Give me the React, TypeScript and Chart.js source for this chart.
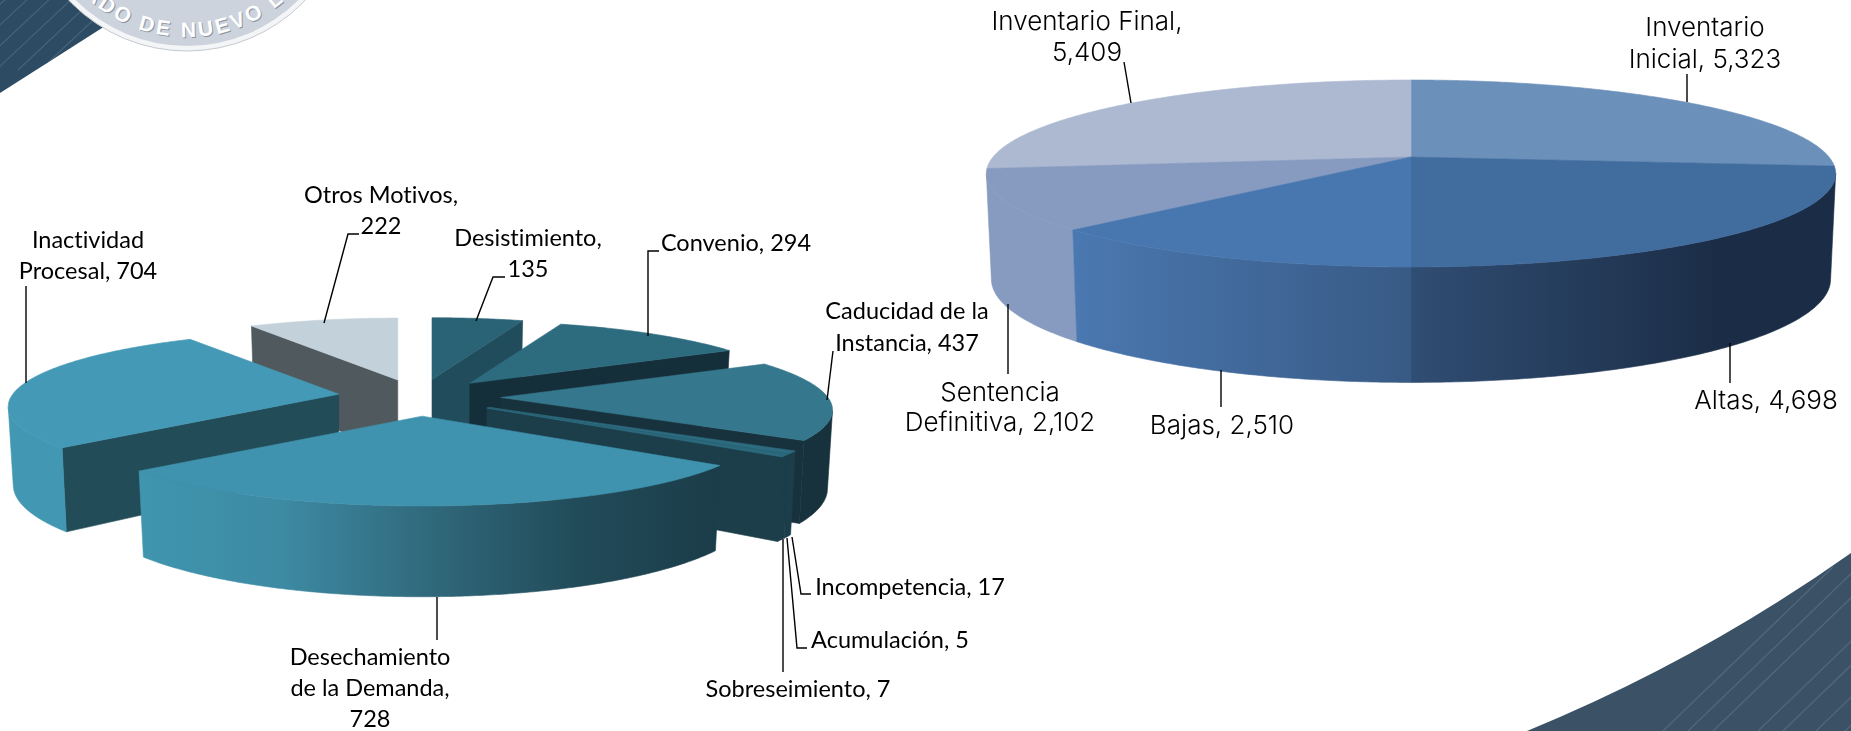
import React, { useEffect, useRef } from "react";
import { Chart, registerables } from "chart.js";

Chart.register(...registerables);

// ---- data ----
const motivoLabels = [
  "Desistimiento", "Convenio", "Caducidad de la Instancia", "Incompetencia", "Acumulación",
  "Sobreseimiento", "Desechamiento de la Demanda", "Inactividad Procesal", "Otros Motivos",
];
const motivoValues = [135, 294, 437, 17, 5, 7, 728, 704, 222];

const inventarioLabels = ["Inventario Inicial", "Altas", "Bajas", "Sentencia Definitiva", "Inventario Final"];
const inventarioValues = [5323, 4698, 2510, 2102, 5409];

// ---- styles ----
const motivoTop = ["#2a6375", "#2d6c7f", "#35778c", "#2d6c80", "#2d6c80", "#2d6c80", "#4093ae", "#449ab6", "#c3d2da"];
const motivoSide = ["#214c5b", "#152f3a", "#17323d", "#1b3e4a", "#1b3e4a", "#1b3e4a", "#1b3e4a", "#224c58", "#50595e"];
const motivoRim: any[] = [
  "#214c5b", "#152f3a", "#17323d", "#1b3e4a", "#1b3e4a", "#1b3e4a",
  { from: 138, to: 718, stops: ["#4095af", "#3d8aa3", "#30697c", "#224c5a", "#1b3c49"] },
  "#4297b2", "#50595e",
];
const inventarioTop = ["#6b91bb", "#416c9e", "#4877b0", "#879abf", "#adb9d1"];
const inventarioRim: any[] = [
  "#6b91bb",
  { from: 1411, to: 1720, stops: ["#304d73", "#1b2d46"] },
  { from: 1075, to: 1411, stops: ["#4a78b0", "#385a85"] },
  "#879abf",
  "#adb9d1",
];

const motivoProjection = {
  cx: 419, cy: 397, a: 327, b: 73.5, k: 0.165, grow: 0.08, explode: 0.25, a2: 322, b2: 83.5, depth: 77,
  top: motivoTop, side: motivoSide, rim: motivoRim,
};
const inventarioProjection = {
  cx: 1411, cy: 157, a: 418, b: 90.6, k: 0.1765, grow: 0, explode: 0, a2: 413, b2: 100, depth: 104,
  top: inventarioTop, side: inventarioTop, rim: inventarioRim,
};

const motivoFont = '23.5px Lato, sans-serif';
const inventarioFont = '300 26px "Inter", sans-serif';

type Note = { lines: string[]; x: number; ys: number[]; path: number[][] };

const motivoNotes: Note[] = [
  { lines: ["Desistimiento,", "135"], x: 528, ys: [238, 269], path: [[505, 277], [493, 277], [476, 321]] },
  { lines: ["Convenio, 294"], x: 736, ys: [243], path: [[659, 251], [648, 251], [648, 336]] },
  { lines: ["Caducidad de la", "Instancia, 437"], x: 907, ys: [311, 343], path: [[833, 351], [827, 400]] },
  { lines: ["Incompetencia, 17"], x: 910, ys: [587], path: [[811, 594], [801, 594], [792, 537]] },
  { lines: ["Acumulación, 5"], x: 890, ys: [640], path: [[807, 648], [797, 648], [787, 538]] },
  { lines: ["Sobreseimiento, 7"], x: 798, ys: [689], path: [[783, 672], [783, 539]] },
  { lines: ["Desechamiento", "de la Demanda,", "728"], x: 370, ys: [657, 688, 719], path: [[437, 597], [437, 640]] },
  { lines: ["Inactividad", "Procesal, 704"], x: 88, ys: [240, 271], path: [[26, 286], [26, 383]] },
  { lines: ["Otros Motivos,", "222"], x: 381, ys: [195, 226], path: [[359, 234], [348, 234], [324, 323]] },
];
const inventarioNotes: Note[] = [
  { lines: ["Inventario", "Inicial, 5,323"], x: 1705, ys: [28, 60], path: [[1687, 74], [1687, 102]] },
  { lines: ["Altas, 4,698"], x: 1766, ys: [401], path: [[1730, 343], [1730, 383]] },
  { lines: ["Bajas, 2,510"], x: 1222, ys: [426], path: [[1221, 370], [1221, 407]] },
  { lines: ["Sentencia", "Definitiva, 2,102"], x: 1000, ys: [393, 423], path: [[1008, 304], [1008, 374]] },
  { lines: ["Inventario Final,", "5,409"], x: 1087, ys: [22, 53], path: [[1124, 62], [1131, 103]] },
];

// ---- plugin: draws the library's arcs as perspective, extruded slices ----
const pie3d = {
  id: "pie3d",
  beforeDatasetsDraw(chart: any, _args: any, opts: any) {
    const ctx: CanvasRenderingContext2D = chart.ctx;
    const { cx, cy, a, b, k, grow, explode, a2, b2, depth, top, side, rim } = opts.projection;
    const arcs = chart.getDatasetMeta(0).data.map((el: any, i: number) => ({
      i,
      s: el.startAngle + Math.PI / 2,
      e: el.endAngle + Math.PI / 2,
    }));
    arcs.sort((p: any, q: any) => -Math.cos((p.s + p.e) / 2) + Math.cos((q.s + q.e) / 2));

    for (const arc of arcs) {
      const mid = (arc.s + arc.e) / 2;
      const u0 = explode * Math.sin(mid);
      const v0 = -explode * Math.cos(mid);
      const ax = cx + (a * u0) / (1 - k * v0);
      const ay = cy + (b * v0) / (1 - k * v0);
      const near = 1 / (1 - grow * v0);
      const up = (t: number) => {
        const u = Math.sin(t), v = -Math.cos(t), w = (1 - k * v) / near;
        return [ax + (a * u) / w, ay + (b * v) / w];
      };
      const low = (t: number) => {
        const u = Math.sin(t), v = -Math.cos(t), w = (1 - k * v) / near;
        return [ax + (a2 * u) / w, ay + depth * near + (b2 * v) / w];
      };
      const n = Math.max(2, Math.ceil((arc.e - arc.s) / 0.01));
      const ts = Array.from({ length: n + 1 }, (_, j) => arc.s + ((arc.e - arc.s) * j) / n);
      const poly = (pts: number[][], fill: any) => {
        ctx.beginPath();
        pts.forEach((p, j) => (j ? ctx.lineTo(p[0], p[1]) : ctx.moveTo(p[0], p[1])));
        ctx.closePath();
        ctx.fillStyle = fill;
        ctx.fill();
        ctx.strokeStyle = fill;
        ctx.lineWidth = 0.6;
        ctx.stroke();
      };

      if (explode > 0) {
        const bottomApex = [ax, ay + depth * near];
        if (-Math.sin(arc.s) > 1e-3) poly([[ax, ay], up(arc.s), low(arc.s), bottomApex], side[arc.i]);
        if (Math.sin(arc.e) > 1e-3) poly([[ax, ay], up(arc.e), low(arc.e), bottomApex], side[arc.i]);
      }

      const r = rim[arc.i];
      let rimFill: any = r;
      if (typeof r !== "string") {
        rimFill = ctx.createLinearGradient(r.from, 0, r.to, 0);
        r.stops.forEach((c: string, j: number) => rimFill.addColorStop(j / (r.stops.length - 1), c));
      }
      // only the part of the rim turned towards the viewer
      const front = ts.filter((t) => -Math.cos(t) >= k);
      if (front.length > 1) poly([...front.map(up), ...front.slice().reverse().map(low)], rimFill);
      poly([[ax, ay], ...ts.map(up)], top[arc.i]);
    }
    return false;
  },
  afterDraw(chart: any, _args: any, opts: any) {
    const ctx: any = chart.ctx;
    ctx.save();
    ctx.strokeStyle = "#000";
    ctx.lineWidth = 1.4;
    ctx.fillStyle = "#000";
    ctx.font = opts.font;
    ctx.textBaseline = "middle";
    ctx.textAlign = "center";
    ctx.textRendering = "optimizeSpeed";
    for (const note of opts.notes as Note[]) {
      ctx.beginPath();
      note.path.forEach((p, j) => (j ? ctx.lineTo(p[0], p[1]) : ctx.moveTo(p[0], p[1])));
      ctx.stroke();
      note.lines.forEach((line, j) => ctx.fillText(line, note.x, note.ys[j]));
    }
    ctx.restore();
  },
};

function Pie({ labels, values, projection, notes, font }: any) {
  const ref = useRef<HTMLCanvasElement>(null);
  useEffect(() => {
    const chart = new Chart(ref.current as HTMLCanvasElement, {
      type: "pie",
      data: {
        labels,
        datasets: [{ data: values, backgroundColor: projection.top, borderWidth: 0, offset: projection.explode * 100 }],
      },
      options: {
        animation: false,
        responsive: false,
        plugins: {
          legend: { display: false },
          tooltip: { enabled: false },
          pie3d: { projection, notes, font },
        } as any,
      },
      plugins: [pie3d as any],
    });
    return () => chart.destroy();
  }, []);
  return (
    <canvas ref={ref} width={1851} height={731}
      style={{ position: "absolute", left: 0, top: 0, width: 1851, height: 731 }} />
  );
}

function Backdrop() {
  const cornerLines = [1663, 1688, 1713, 1758, 1783, 1816, 1845, 1875, 1905, 1935];
  const bandLines = [-70, -48, -26, -4, 18, 40, 62, 84];
  const sealText = "ESTADO DE NUEVO LEÓN";
  const sealProps: any = {
    fontFamily: "'Liberation Sans', sans-serif",
    fontSize: 21,
    fontWeight: 700,
    letterSpacing: 3,
  };
  return (
    <svg width={1851} height={731} style={{ position: "absolute", left: 0, top: 0 }}>
      <defs>
        <clipPath id="corner"><path d="M1527 731 Q1700 660 1851 553 L1851 731 Z" /></clipPath>
        <clipPath id="band"><path d="M0 93 L102 28 L140 0 L0 0 Z" /></clipPath>
        <path id="sealArc" d="M38 -112 A149 149 0 0 0 336 -112" />
        <path id="sealShadow" d="M39 -111 A149 149 0 0 0 337 -111" />
      </defs>
      <path d="M1527 731 Q1700 660 1851 553 L1851 731 Z" fill="#3b5166" />
      <g clipPath="url(#corner)" stroke="#506678" strokeWidth={1.5}>
        {cornerLines.map((x) => <line key={x} x1={x} y1={731} x2={x + 170} y2={567} />)}
      </g>
      <path d="M0 93 L102 28 L140 0 L0 0 Z" fill="#2d4c64" />
      <g clipPath="url(#band)" stroke="#45647a" strokeWidth={1.2}>
        {bandLines.map((x) => <line key={x} x1={x} y1={70} x2={x + 80} y2={-5} />)}
      </g>
      <circle cx={187} cy={-112} r={163} fill="#f4f5f7" stroke="#c4c9d0" strokeWidth={1} />
      <circle cx={187} cy={-112} r={158} fill="#ccd3dc" />
      <text {...sealProps} fill="#8b94a1">
        <textPath href="#sealShadow" startOffset="50%" textAnchor="middle">{sealText}</textPath>
      </text>
      <text {...sealProps} fill="#ffffff">
        <textPath href="#sealArc" startOffset="50%" textAnchor="middle">{sealText}</textPath>
      </text>
    </svg>
  );
}

export default function App() {
  return (
    <div style={{ position: "fixed", left: 0, top: 0, width: 1851, height: 731, overflow: "hidden", background: "#fff" }}>
      <Backdrop />
      <Pie labels={motivoLabels} values={motivoValues} projection={motivoProjection} notes={motivoNotes} font={motivoFont} />
      <Pie labels={inventarioLabels} values={inventarioValues} projection={inventarioProjection} notes={inventarioNotes} font={inventarioFont} />
    </div>
  );
}
